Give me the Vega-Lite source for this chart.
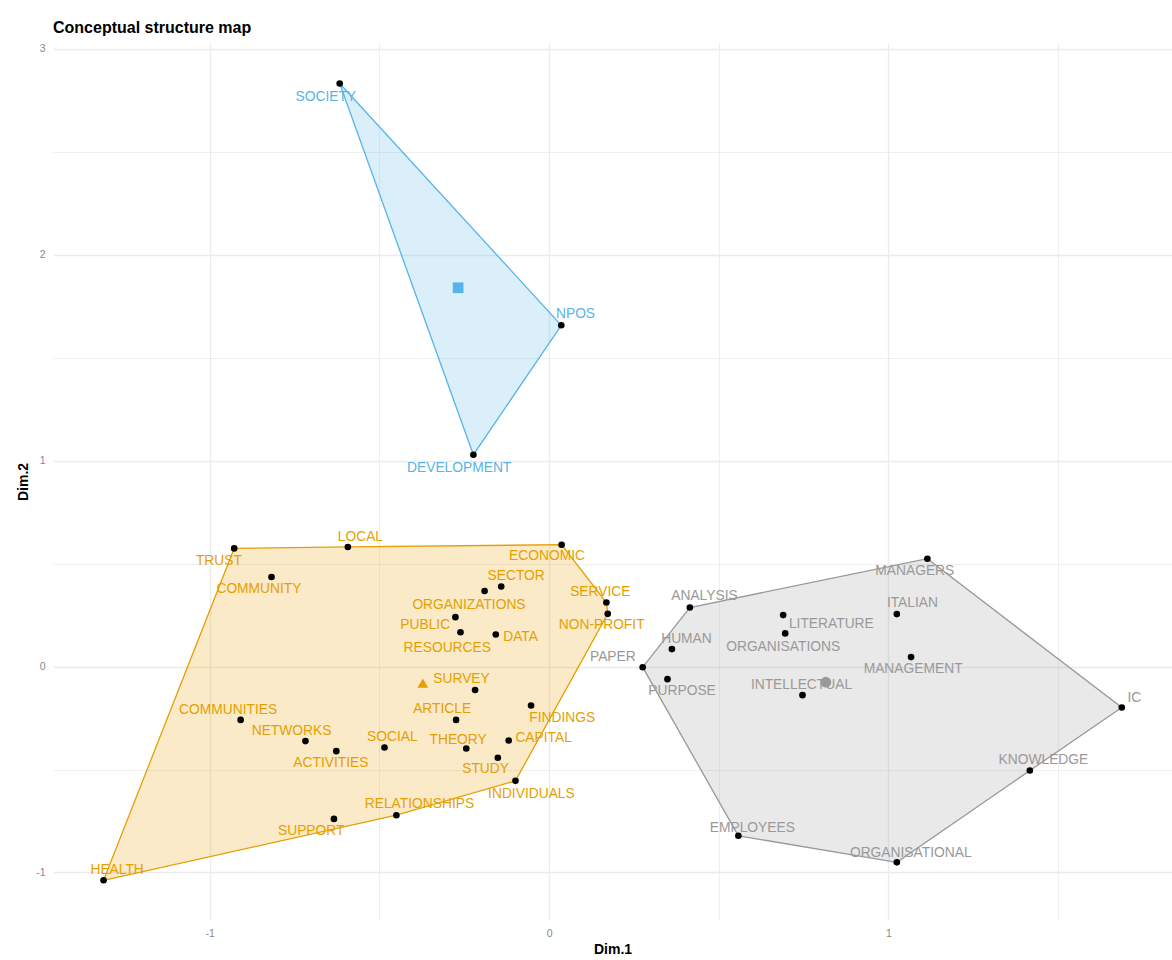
{
  "$schema": "https://vega.github.io/schema/vega-lite/v6.json",
  "width": 1119,
  "height": 877,
  "autosize": {"type": "none"},
  "padding": {"left": 53, "top": 43, "right": 0, "bottom": 40},
  "background": "white",
  "title": {"text": "Conceptual structure map", "anchor": "start", "frame": "group", "fontSize": 16, "fontWeight": "bold", "color": "#000000", "font": "Liberation Sans", "offset": -6, "baseline": "alphabetic"},
  "config": {"view": {"stroke": null}, "font": "Liberation Sans"},
  "datasets": {
    "words": [
      {"word": "SOCIETY", "cluster": "3", "x": -0.617, "y": 2.832, "lx": -0.658, "ly": 2.768, "h": 1},
      {"word": "NPOS", "cluster": "3", "x": 0.036, "y": 1.658, "lx": 0.078, "ly": 1.713, "h": 2},
      {"word": "DEVELOPMENT", "cluster": "3", "x": -0.223, "y": 1.029, "lx": -0.265, "ly": 0.965, "h": 3},
      {"word": "HEALTH", "cluster": "2", "x": -1.313, "y": -1.038, "lx": -1.273, "ly": -0.988, "h": 1},
      {"word": "TRUST", "cluster": "2", "x": -0.928, "y": 0.574, "lx": -0.973, "ly": 0.515, "h": 2},
      {"word": "LOCAL", "cluster": "2", "x": -0.593, "y": 0.581, "lx": -0.556, "ly": 0.629, "h": 3},
      {"word": "ECONOMIC", "cluster": "2", "x": 0.037, "y": 0.592, "lx": -0.006, "ly": 0.538, "h": 4},
      {"word": "SERVICE", "cluster": "2", "x": 0.169, "y": 0.311, "lx": 0.151, "ly": 0.36, "h": 5},
      {"word": "NON-PROFIT", "cluster": "2", "x": 0.173, "y": 0.256, "lx": 0.155, "ly": 0.201, "h": 6},
      {"word": "INDIVIDUALS", "cluster": "2", "x": -0.099, "y": -0.555, "lx": -0.052, "ly": -0.618, "h": 7},
      {"word": "RELATIONSHIPS", "cluster": "2", "x": -0.45, "y": -0.722, "lx": -0.382, "ly": -0.667, "h": 8},
      {"word": "COMMUNITY", "cluster": "2", "x": -0.818, "y": 0.435, "lx": -0.855, "ly": 0.379, "h": null},
      {"word": "COMMUNITIES", "cluster": "2", "x": -0.909, "y": -0.259, "lx": -0.946, "ly": -0.21, "h": null},
      {"word": "SECTOR", "cluster": "2", "x": -0.141, "y": 0.389, "lx": -0.097, "ly": 0.438, "h": null},
      {"word": "ORGANIZATIONS", "cluster": "2", "x": -0.19, "y": 0.367, "lx": -0.236, "ly": 0.3, "h": null},
      {"word": "PUBLIC", "cluster": "2", "x": -0.276, "y": 0.24, "lx": -0.365, "ly": 0.201, "h": null},
      {"word": "RESOURCES", "cluster": "2", "x": -0.261, "y": 0.167, "lx": -0.3, "ly": 0.09, "h": null},
      {"word": "DATA", "cluster": "2", "x": -0.157, "y": 0.156, "lx": -0.084, "ly": 0.145, "h": null},
      {"word": "SURVEY", "cluster": "2", "x": -0.218, "y": -0.114, "lx": -0.258, "ly": -0.061, "h": null},
      {"word": "FINDINGS", "cluster": "2", "x": -0.053, "y": -0.189, "lx": 0.039, "ly": -0.249, "h": null},
      {"word": "ARTICLE", "cluster": "2", "x": -0.274, "y": -0.259, "lx": -0.315, "ly": -0.204, "h": null},
      {"word": "NETWORKS", "cluster": "2", "x": -0.718, "y": -0.362, "lx": -0.759, "ly": -0.312, "h": null},
      {"word": "ACTIVITIES", "cluster": "2", "x": -0.627, "y": -0.411, "lx": -0.643, "ly": -0.466, "h": null},
      {"word": "SOCIAL", "cluster": "2", "x": -0.485, "y": -0.393, "lx": -0.462, "ly": -0.341, "h": null},
      {"word": "THEORY", "cluster": "2", "x": -0.244, "y": -0.398, "lx": -0.268, "ly": -0.356, "h": null},
      {"word": "CAPITAL", "cluster": "2", "x": -0.119, "y": -0.359, "lx": -0.016, "ly": -0.347, "h": null},
      {"word": "STUDY", "cluster": "2", "x": -0.151, "y": -0.443, "lx": -0.187, "ly": -0.497, "h": null},
      {"word": "SUPPORT", "cluster": "2", "x": -0.634, "y": -0.74, "lx": -0.701, "ly": -0.797, "h": null},
      {"word": "PAPER", "cluster": "1", "x": 0.276, "y": -0.003, "lx": 0.188, "ly": 0.046, "h": 1},
      {"word": "ANALYSIS", "cluster": "1", "x": 0.415, "y": 0.287, "lx": 0.458, "ly": 0.345, "h": 2},
      {"word": "MANAGERS", "cluster": "1", "x": 1.115, "y": 0.524, "lx": 1.078, "ly": 0.464, "h": 3},
      {"word": "IC", "cluster": "1", "x": 1.688, "y": -0.199, "lx": 1.725, "ly": -0.155, "h": 4},
      {"word": "KNOWLEDGE", "cluster": "1", "x": 1.417, "y": -0.505, "lx": 1.457, "ly": -0.455, "h": 5},
      {"word": "ORGANISATIONAL", "cluster": "1", "x": 1.025, "y": -0.951, "lx": 1.066, "ly": -0.904, "h": 6},
      {"word": "EMPLOYEES", "cluster": "1", "x": 0.558, "y": -0.822, "lx": 0.599, "ly": -0.784, "h": 7},
      {"word": "HUMAN", "cluster": "1", "x": 0.362, "y": 0.085, "lx": 0.405, "ly": 0.136, "h": null},
      {"word": "PURPOSE", "cluster": "1", "x": 0.349, "y": -0.061, "lx": 0.392, "ly": -0.119, "h": null},
      {"word": "LITERATURE", "cluster": "1", "x": 0.69, "y": 0.25, "lx": 0.832, "ly": 0.209, "h": null},
      {"word": "ORGANISATIONS", "cluster": "1", "x": 0.696, "y": 0.161, "lx": 0.69, "ly": 0.094, "h": null},
      {"word": "INTELLECTUAL", "cluster": "1", "x": 0.747, "y": -0.139, "lx": 0.744, "ly": -0.09, "h": null},
      {"word": "ITALIAN", "cluster": "1", "x": 1.025, "y": 0.255, "lx": 1.071, "ly": 0.308, "h": null},
      {"word": "MANAGEMENT", "cluster": "1", "x": 1.067, "y": 0.046, "lx": 1.073, "ly": -0.012, "h": null}
    ],
    "centroids": [
      {"cluster": "1", "x": 0.816, "y": -0.076},
      {"cluster": "2", "x": -0.372, "y": -0.08},
      {"cluster": "3", "x": -0.268, "y": 1.84}
    ]
  },
  "layer": [
    {
      "data": {"name": "words"},
      "transform": [{"filter": "datum.h != null"}],
      "mark": {"type": "line", "interpolate": "linear-closed", "strokeWidth": 1.3, "fillOpacity": 0.22, "strokeOpacity": 1},
      "encoding": {
        "x": {"field": "x", "type": "quantitative", "scale": {"domain": [-1.462, 1.836], "nice": false, "zero": false},
          "axis": {"title": "Dim.1", "values": [-1, -0.5, 0, 0.5, 1, 1.5], "labelExpr": "datum.value % 1 === 0 ? '' + datum.value : ''", "grid": true, "gridColor": "#ebebeb", "gridWidth": {"condition": {"test": "datum.value % 1 !== 0", "value": 0.8}, "value": 1.3}, "domain": false, "ticks": false, "labelPadding": 8, "labelFontSize": 10.5, "labelColor": "#888888", "labelFlush": false, "labelOverlap": false, "titleFontSize": 14, "titleFontWeight": "bold", "titleColor": "#000000", "titlePadding": 4}},
        "y": {"field": "y", "type": "quantitative", "scale": {"domain": [-1.231, 3.029], "nice": false, "zero": false},
          "axis": {"title": "Dim.2", "values": [-1, -0.5, 0, 0.5, 1, 1.5, 2, 2.5, 3], "labelExpr": "datum.value % 1 === 0 ? '' + datum.value : ''", "grid": true, "gridColor": "#ebebeb", "gridWidth": {"condition": {"test": "datum.value % 1 !== 0", "value": 0.8}, "value": 1.3}, "domain": false, "ticks": false, "labelPadding": 8, "labelFontSize": 10.5, "labelColor": "#888888", "labelFlush": false, "labelOverlap": false, "titleFontSize": 14, "titleFontWeight": "bold", "titleColor": "#000000", "titlePadding": 5}},
        "order": {"field": "h", "type": "quantitative"},
        "color": {"field": "cluster", "type": "nominal", "scale": {"domain": ["1", "2", "3"], "range": ["#999999", "#E69F00", "#56B4E9"]}, "legend": null},
        "fill": {"field": "cluster", "type": "nominal", "scale": {"domain": ["1", "2", "3"], "range": ["#999999", "#E69F00", "#56B4E9"]}, "legend": null}
      }
    },
    {
      "data": {"name": "words"},
      "mark": {"type": "text", "fontSize": 13.8, "font": "Liberation Sans", "baseline": "middle", "align": "center"},
      "encoding": {
        "x": {"field": "lx", "type": "quantitative", "scale": {"domain": [-1.462, 1.836], "nice": false, "zero": false}, "axis": {"title": "Dim.1"}},
        "y": {"field": "ly", "type": "quantitative", "scale": {"domain": [-1.231, 3.029], "nice": false, "zero": false}, "axis": {"title": "Dim.2"}},
        "text": {"field": "word", "type": "nominal"},
        "color": {"field": "cluster", "type": "nominal", "scale": {"domain": ["1", "2", "3"], "range": ["#999999", "#E69F00", "#56B4E9"]}, "legend": null}
      }
    },
    {
      "data": {"name": "words"},
      "mark": {"type": "circle", "size": 44, "color": "#000000", "opacity": 1},
      "encoding": {
        "x": {"field": "x", "type": "quantitative", "scale": {"domain": [-1.462, 1.836], "nice": false, "zero": false}, "axis": {"title": "Dim.1"}},
        "y": {"field": "y", "type": "quantitative", "scale": {"domain": [-1.231, 3.029], "nice": false, "zero": false}, "axis": {"title": "Dim.2"}}
      }
    },
    {
      "data": {"name": "centroids"},
      "mark": {"type": "point", "filled": true, "size": 115, "opacity": 1},
      "encoding": {
        "x": {"field": "x", "type": "quantitative", "scale": {"domain": [-1.462, 1.836], "nice": false, "zero": false}, "axis": {"title": "Dim.1"}},
        "y": {"field": "y", "type": "quantitative", "scale": {"domain": [-1.231, 3.029], "nice": false, "zero": false}, "axis": {"title": "Dim.2"}},
        "shape": {"field": "cluster", "type": "nominal", "scale": {"domain": ["1", "2", "3"], "range": ["circle", "triangle-up", "square"]}, "legend": null},
        "color": {"field": "cluster", "type": "nominal", "scale": {"domain": ["1", "2", "3"], "range": ["#999999", "#E69F00", "#56B4E9"]}, "legend": null}
      }
    }
  ]
}
